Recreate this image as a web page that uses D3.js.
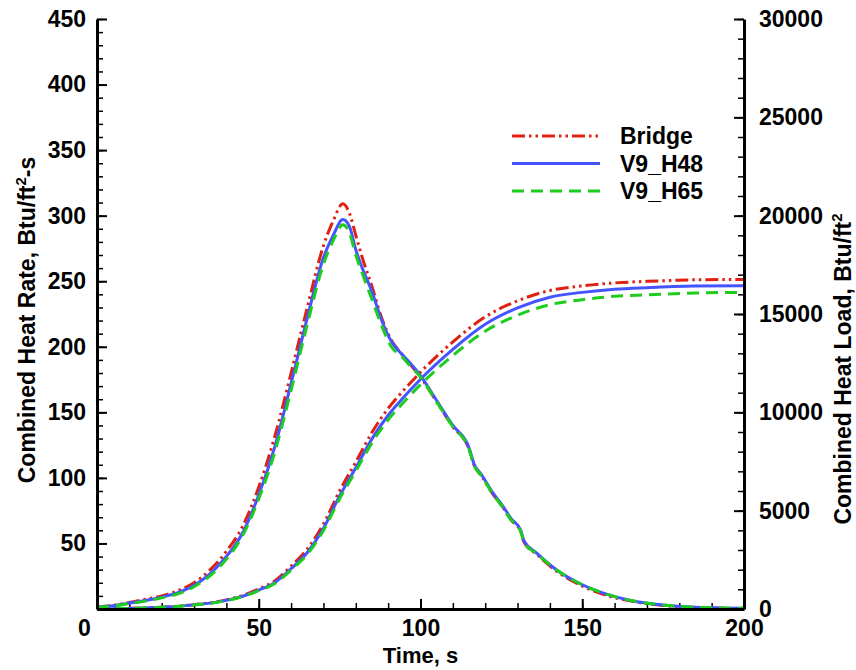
<!DOCTYPE html>
<html lang="en">
<head>
  <meta charset="UTF-8">
  <title>Combined Heat Rate and Heat Load</title>
  <script src="https://d3js.org/d3.v7.min.js"></script>
  <style>
    body { margin: 0; background: #fff; }
    svg text { font-family: "Liberation Sans", Arial, Helvetica, sans-serif; font-weight: bold; fill: #000; }
  </style>
</head>
<body>
  <div id="chart"></div>

  <script>
    // Heat rate (left axis), Btu/ft2-s
    const rateTime = [0, 5, 10, 15, 20, 25, 30, 35, 40, 45, 50, 55, 60, 65, 70, 73, 76, 78, 80, 82, 85, 88, 91, 94, 97,
      100, 105, 110, 115, 116.5, 119, 122, 125.6, 128, 131, 132, 136, 142, 150, 158, 165, 175, 185, 200];
    const bridgeRate = [1.5, 2.8, 5, 7.5, 10, 14, 20, 30, 44, 63, 93, 132, 180, 230, 277, 296, 309, 302, 285, 268, 246, 222, 205, 195, 186,
      177, 158, 139, 122, 110, 101, 89, 77, 68, 59, 51, 41.5, 29, 17.5, 10, 6, 2.7, 1.2, 0.5];
    const h48Rate = [1.5, 2.5, 4.5, 6.5, 9, 12.5, 18, 27, 40, 58, 87, 124, 172, 222, 268, 285, 297, 292, 274, 260, 242, 220, 204, 195, 187,
      178, 159, 140, 123, 111, 102, 90, 78, 69, 60, 52, 42.5, 30, 18.5, 11, 6.5, 3, 1.3, 0.5];
    const h65Rate = [1.5, 2.3, 4.2, 6, 8.5, 11.5, 17, 25.5, 38, 56, 84, 120, 167, 217, 263, 281, 293, 287, 270, 256, 236, 216, 200, 193, 185,
      177, 158, 139, 122, 110, 101, 89, 77, 68, 59, 51, 42, 30, 18.5, 11, 6.5, 3, 1.3, 0.5];

    // Heat load (right axis), Btu/ft2
    const loadTime = [0, 10, 20, 30, 40, 45, 50, 55, 60, 65, 70, 75, 80, 85, 90, 95, 100, 110, 120, 130, 140, 150, 160, 170, 185, 200];
    const bridgeLoad = [0, 32, 95, 222, 465, 690, 1020, 1440, 2180, 3050, 4320, 6010, 7480, 8980, 10200, 11160, 12040,
      13580, 14855, 15670, 16195, 16430, 16580, 16660, 16740, 16760];
    const h48Load = [0, 30, 90, 210, 440, 650, 960, 1350, 2050, 2870, 4100, 5750, 7180, 8650, 9850, 10800, 11680,
      13200, 14475, 15310, 15855, 16100, 16260, 16340, 16420, 16440];
    const h65Load = [0, 28, 86, 202, 425, 630, 930, 1300, 1980, 2780, 3990, 5610, 7010, 8450, 9620, 10550, 11410,
      12890, 14125, 14940, 15475, 15730, 15900, 15970, 16070, 16100];

    const seriesNames = ['Bridge', 'V9_H48', 'V9_H65'];
    const xTicks = [0, 50, 100, 150, 200];
    const rateTicks = [0, 50, 100, 150, 200, 250, 300, 350, 400, 450];
    const loadTicks = [0, 5000, 10000, 15000, 20000, 25000, 30000];

    const width = 856;
    const height = 670;
    const margin = { top: 19, right: 112, bottom: 61, left: 97 };

    const svg = d3.select('#chart')
      .append('svg')
      .attr('width', width)
      .attr('height', height);

    const x = d3.scaleLinear().domain([0, 200]).range([margin.left, width - margin.right]);
    const yRate = d3.scaleLinear().domain([0, 450]).range([height - margin.bottom, margin.top]);
    const yLoad = d3.scaleLinear().domain([0, 30000]).range([height - margin.bottom, margin.top]);

    const styles = [
      { color: '#e02010', dash: '13,4,2.5,4,2.5,4' },
      { color: '#4455ff', dash: null },
      { color: '#1ecc1e', dash: '12,7' }
    ];

    const rateSets = [bridgeRate, h48Rate, h65Rate];
    const loadSets = [bridgeLoad, h48Load, h65Load];

    // minor ticks first, then major axes on top
    function minor(axis, values, transform) {
      svg.append('g')
        .attr('transform', transform)
        .call(axis.tickValues(values).tickSize(-6).tickFormat(''))
        .call(g => g.select('.domain').remove())
        .call(g => g.selectAll('line').attr('stroke', '#000').attr('stroke-width', 1.5));
    }
    minor(d3.axisBottom(x), d3.range(0, 201, 10), `translate(0,${height - margin.bottom})`);
    minor(d3.axisLeft(yRate), d3.range(0, 451, 10), `translate(${margin.left},0)`);
    minor(d3.axisRight(yLoad), d3.range(0, 30001, 1000), `translate(${width - margin.right},0)`);

    // curves
    const rateLine = d3.line().curve(d3.curveMonotoneX)
      .x((d, i) => x(rateTime[i])).y(d => yRate(d));
    const loadLine = d3.line().curve(d3.curveMonotoneX)
      .x((d, i) => x(loadTime[i])).y(d => yLoad(d));

    styles.forEach((s, k) => {
      [rateLine(rateSets[k]), loadLine(loadSets[k])].forEach(p => {
        svg.append('path')
          .attr('d', p)
          .attr('fill', 'none')
          .attr('stroke', s.color)
          .attr('stroke-width', 3)
          .attr('stroke-dasharray', s.dash);
      });
    });

    // major axes
    const xAxis = svg.append('g')
      .attr('transform', `translate(0,${height - margin.bottom})`)
      .call(d3.axisBottom(x).tickValues(xTicks).tickSize(-10).tickSizeOuter(0).tickPadding(11));
    // the origin label sits left of the corner, shared by both axes
    xAxis.selectAll('.tick text').filter(d => d === 0).attr('x', -13);

    const leftAxis = svg.append('g')
      .attr('transform', `translate(${margin.left},0)`)
      .call(d3.axisLeft(yRate).tickValues(rateTicks).tickSize(-10).tickSizeOuter(0).tickPadding(11)
        .tickFormat(d => d === 0 ? '' : d));

    const rightAxis = svg.append('g')
      .attr('transform', `translate(${width - margin.right},0)`)
      .call(d3.axisRight(yLoad).tickValues(loadTicks).tickSize(-10).tickSizeOuter(0).tickPadding(15)
        .tickFormat(d3.format('d')));

    [xAxis, leftAxis, rightAxis].forEach(g => {
      g.select('.domain').attr('stroke', '#000').attr('stroke-width', 3);
      g.selectAll('.tick line').attr('stroke', '#000').attr('stroke-width', 2);
      g.selectAll('.tick text')
        .attr('fill', '#000')
        .style('font-size', '23px');
    });

    // axis titles
    svg.append('text')
      .attr('x', (margin.left + width - margin.right) / 2)
      .attr('y', 663)
      .attr('text-anchor', 'middle')
      .style('font-size', '22px')
      .text('Time, s');

    const leftTitle = svg.append('text')
      .attr('transform', 'translate(35,320) rotate(-90)')
      .attr('text-anchor', 'middle')
      .style('font-size', '23px');
    leftTitle.append('tspan').text('Combined Heat Rate, Btu/ft');
    leftTitle.append('tspan').attr('dy', -9).style('font-size', '15px').text('2');
    leftTitle.append('tspan').attr('dy', 9).text('-s');

    const rightTitle = svg.append('text')
      .attr('transform', 'translate(851,369) rotate(-90)')
      .attr('text-anchor', 'middle')
      .style('font-size', '23px');
    rightTitle.append('tspan').text('Combined Heat Load, Btu/ft');
    rightTitle.append('tspan').attr('dy', -9).style('font-size', '15px').text('2');

    // legend
    const legend = svg.append('g');
    seriesNames.forEach((name, k) => {
      const ly = 136 + k * 27.5;
      legend.append('line')
        .attr('x1', 512).attr('x2', 600)
        .attr('y1', ly).attr('y2', ly)
        .attr('stroke', styles[k].color)
        .attr('stroke-width', 3)
        .attr('stroke-dasharray', styles[k].dash);
      legend.append('text')
        .attr('x', 620)
        .attr('y', ly)
        .attr('dy', '0.36em')
        .style('font-size', '23px')
        .text(name);
    });
  </script>
</body>
</html>
